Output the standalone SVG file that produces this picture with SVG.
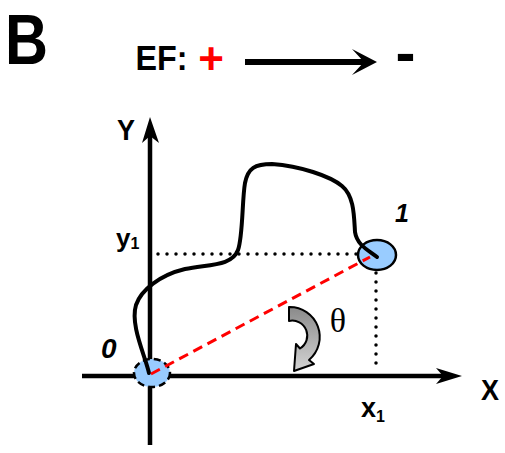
<svg xmlns="http://www.w3.org/2000/svg" width="505" height="453" viewBox="0 0 505 453">
<style>
.t{font-family:"Liberation Sans",Arial,sans-serif;font-weight:bold;fill:#000}
.ax{stroke:#000;stroke-width:4.5;fill:none}
.dot{stroke:#000;stroke-width:3.5;stroke-linecap:round;stroke-dasharray:0 9;fill:none}
.pt{fill:#99ccff;stroke:#000;stroke-width:2.5}
</style>
<defs>
<linearGradient id="g" x1="0" y1="0" x2="0" y2="1">
<stop offset="0" stop-color="#8a8a8a"/>
<stop offset="1" stop-color="#d4d4d4"/>
</linearGradient>
</defs>
<text class="t" x="5" y="63.5" font-size="70" textLength="43" lengthAdjust="spacingAndGlyphs">B</text>
<g id="legend">
<text class="t" x="135.5" y="70" font-size="35" textLength="52" lengthAdjust="spacingAndGlyphs">EF:</text>
<text class="t" x="211" y="73.5" font-size="44" text-anchor="middle" style="fill:#ff0000">+</text>
<line x1="245" y1="62" x2="366" y2="62" stroke="#000" stroke-width="6"/>
<path d="M377,62 L352,49 L364,62 L352,75 Z" fill="#000"/>
<text class="t" x="405.5" y="73" font-size="60" text-anchor="middle">-</text>
</g>
<g id="axes">
<line class="ax" x1="150" y1="445" x2="150" y2="130"/>
<path d="M150,117 L142,143 L150,136 L159,143 Z" fill="#000"/>
<line class="ax" x1="82" y1="376" x2="452" y2="376"/>
<path d="M462,376 L436,368 L443,376 L436,384 Z" fill="#000"/>
<text class="t" x="117" y="140" font-size="30" textLength="18" lengthAdjust="spacingAndGlyphs">Y</text>
<text class="t" x="481" y="400" font-size="30" textLength="18" lengthAdjust="spacingAndGlyphs">X</text>
<text class="t" x="116" y="247" font-size="26">y<tspan font-size="16" dy="2">1</tspan></text>
<text class="t" x="361" y="417" font-size="27">x<tspan font-size="16" dy="5">1</tspan></text>
</g>
<g id="guides">
<line class="dot" x1="158" y1="254" x2="358" y2="254"/>
<line class="dot" x1="376" y1="264" x2="376" y2="368"/>
</g>
<g id="point0">
<ellipse class="pt" cx="152" cy="373" rx="18" ry="14" stroke-dasharray="7 4"/>
<text class="t" x="101" y="358" font-size="28" font-style="italic">0</text>
</g>
<g id="point1">
<ellipse class="pt" cx="377" cy="255" rx="19" ry="15"/>
<text class="t" x="395" y="222" font-size="25" font-style="italic">1</text>
</g>
<g id="connectors">
<path d="M149,373 C145,355 130,325 136,305 C141,290 160,275 185,269 C210,264 232,266 238,250 C243,236 242,200 245,183 C248,168 255,164 272,164 C300,166 330,176 342,186 C354,196 354,215 355,232 C357,245 368,250 377,257" fill="none" stroke="#000" stroke-width="4" stroke-linecap="round"/>
<line x1="151" y1="374" x2="370" y2="257" stroke="#ff0000" stroke-width="3" stroke-dasharray="10 6"/>
<path d="M289,307 A30,30 0 0 1 309,360 L314,364 L294,371 L296,344 L300,348.5 A15,15 0 0 0 289,321 Z" fill="url(#g)" stroke="#000" stroke-width="2" stroke-linejoin="round"/>
<text x="338" y="332" font-family="'Liberation Serif','Times New Roman',serif" font-size="34" text-anchor="middle">θ</text>
</g>
</svg>
